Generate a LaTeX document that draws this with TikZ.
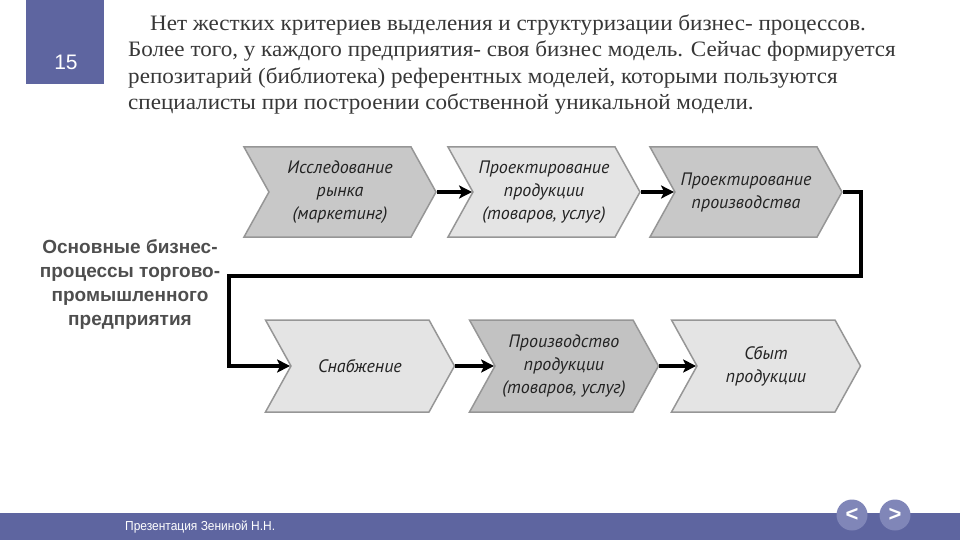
\documentclass[tikz,border=0pt]{standalone}
\usepackage{fontspec}
\setmainfont{Liberation Serif}
\newfontfamily\headfont{Liberation Serif}[FakeStretch=1.05]
\newfontfamily\chevfont{PT Sans}
\newfontfamily\labfont{Liberation Sans}
\newfontfamily\footfont{Liberation Sans}[FakeStretch=0.92]
\usetikzlibrary{shapes.symbols,arrows.meta}
\definecolor{slide}{RGB}{94,101,160}
\definecolor{btn}{RGB}{128,134,184}
\definecolor{midgray}{RGB}{200,200,200}
\definecolor{darkmid}{RGB}{194,194,194}
\definecolor{lightgray}{RGB}{228,228,228}
\definecolor{edgegray}{RGB}{150,150,150}
\definecolor{headtext}{RGB}{55,55,55}
\definecolor{labtext}{RGB}{78,78,78}
\definecolor{chevtext}{RGB}{35,35,35}
\tikzset{
  chev/.style={signal, signal to=east, signal from=west, signal pointer angle=122,
    draw=edgegray, line width=1.5pt, minimum width=192pt, minimum height=90pt,
    inner sep=0pt, align=center, text=chevtext,
    font=\chevfont\itshape\fontsize{18}{23}\selectfont},
  chevmid/.style={chev, fill=midgray},
  chevlight/.style={chev, fill=lightgray},
  lowrow/.style={minimum width=189pt, minimum height=92pt},
  flow/.style={line width=4pt, black, -{Stealth[length=13pt,width=13pt,inset=3pt]}},
  headline/.style={anchor=base west, inner sep=0pt, text=headtext,
    font=\headfont\fontsize{22}{26}\selectfont},
  navbtn/.style={circle, fill=btn, minimum size=31pt, inner sep=0pt, text=white,
    font=\labfont\bfseries\fontsize{22}{22}\selectfont},
}
\begin{document}
\begin{tikzpicture}[x=1pt,y=1pt]
\useasboundingbox (0,0) rectangle (960,-540);
% number box
\fill[slide] (26,0) rectangle (104,-84);
\node[text=white, font=\labfont\fontsize{21}{24}\selectfont] (num) at (66,-62) {15};
% header
\node[headline] (h1) at (150,-31) {Нет жестких критериев выделения и структуризации бизнес- процессов.};
\node[headline] (h2) at (128,-57) {Более того, у каждого предприятия- своя бизнес модель. Сейчас формируется};
\node[headline] (h3) at (128,-84) {репозитарий (библиотека) референтных моделей, которыми пользуются};
\node[headline] (h4) at (128,-110) {специалисты при построении собственной уникальной модели.};
% chevrons top
\node[chevmid] (c1) at (340,-192) {Исследование\\рынка\\(маркетинг)};
\node[chevlight] (c2) at (544,-192) {Проектирование\\продукции\\(товаров, услуг)};
\node[chevmid] (c3) at (746,-192) {Проектирование\\производства};
% chevrons bottom
\node[chevlight, lowrow] (c4) at (360,-366) {Снабжение};
\node[chev, fill=darkmid, lowrow] (c5) at (564,-366) {Производство\\продукции\\(товаров, услуг)};
\node[chevlight, lowrow] (c6) at (766,-366) {Сбыт\\продукции};
% label
\node[align=center, text=labtext, font=\labfont\bfseries\fontsize{19}{24}\selectfont] (lab) at (130,-285)
  {Основные бизнес-\\процессы торгово-\\промышленного\\предприятия};
% connectors
\coordinate (r1) at (861,-192);
\coordinate (r2) at (861,-276);
\coordinate (l1) at (229,-276);
\coordinate (l2) at (229,-366);
\draw[flow] (c1.east) -- (c2.west);
\draw[flow] (c2.east) -- (c3.west);
\draw[flow, line join=miter] (c3.east) -- (r1) -- (r2) -- (l1) -- (l2) -- (c4.west);
\draw[flow] (c4.east) -- (c5.west);
\draw[flow] (c5.east) -- (c6.west);
% footer
\fill[slide] (0,-513) rectangle (960,-540);
\node[anchor=west, text=white, inner sep=0pt, font=\footfont\fontsize{13}{14}\selectfont] (foot) at (125,-527) {Презентация Зениной Н.Н.};
\node[navbtn] (prev) at (852,-515) {<};
\node[navbtn] (next) at (895,-515) {>};
\end{tikzpicture}
\end{document}
